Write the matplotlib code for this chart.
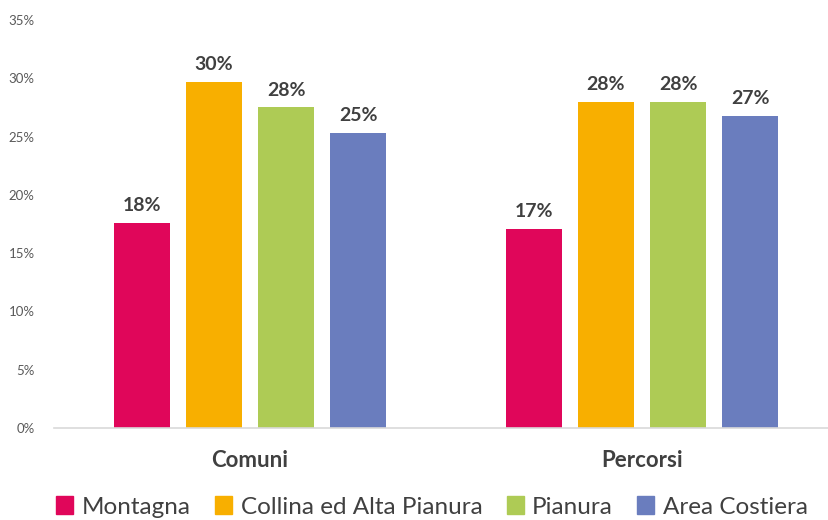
import matplotlib
matplotlib.use("Agg")
import matplotlib.pyplot as plt
import numpy as np
from matplotlib.ticker import FuncFormatter
from matplotlib.patches import Patch

categories = ["Comuni", "Percorsi"]
series = ["Montagna", "Collina ed Alta Pianura", "Pianura", "Area Costiera"]
values = {
    "Montagna": [17.6, 17.1],
    "Collina ed Alta Pianura": [29.7, 28.0],
    "Pianura": [27.5, 28.0],
    "Area Costiera": [25.3, 26.8],
}
colors = ["#E0065A", "#F8AF00", "#AECB55", "#6A7DBE"]
yticks = [0, 5, 10, 15, 20, 25, 30, 35]

plt.rcParams['font.family'] = ['Lato', 'DejaVu Sans']

fig = plt.figure(figsize=(8.29, 5.2), dpi=100)
ax = fig.add_axes([54/829, 1-428/520, 784/829, 408/520])

x = np.arange(len(categories))
step = 0.1837
width = 0.143
for i, s in enumerate(series):
    pos = x + (i - 1.5) * step
    bars = ax.bar(pos, values[s], width=width, color=colors[i], label=s)
    for b, v in zip(bars, values[s]):
        ax.text(b.get_x() + b.get_width()/2, v + 0.75, f"{v:.0f}%",
                ha='center', va='bottom', fontsize=14, fontweight='bold', color='#404040')

ax.set_xlim(-0.5, 1.5)
ax.set_ylim(0, 35)
ax.set_yticks(yticks)
ax.yaxis.set_major_formatter(FuncFormatter(lambda v, p: f"{v:.0f}%"))
ax.tick_params(axis='y', length=0, labelsize=9.5, labelcolor='#595959', pad=14)
ax.set_xticks(x)
ax.set_xticklabels(categories, fontsize=16, fontweight='bold', color='#404040')
ax.tick_params(axis='x', length=0, pad=16)
for sp in ['top', 'right', 'left']:
    ax.spines[sp].set_visible(False)
ax.spines['bottom'].set_color('#D9D9D9')
ax.spines['bottom'].set_linewidth(1.2)

handles = [Patch(color=c, label=s) for c, s in zip(colors, series)]
fig.legend(handles=handles, loc='center', bbox_to_anchor=(432/829, 1-507/520), ncol=4,
           frameon=False, fontsize=17.5, handlelength=0.7, handleheight=0.7,
           handletextpad=0.35, columnspacing=1.0, labelcolor='#404040')

fig.savefig("out.png", dpi=100)
